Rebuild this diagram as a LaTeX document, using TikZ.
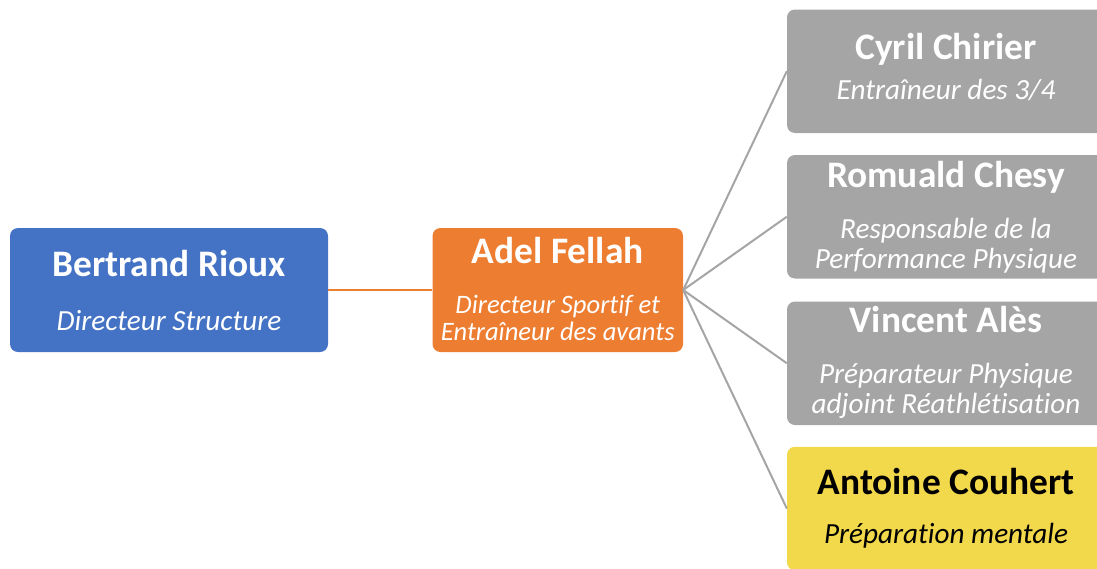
\documentclass[tikz,border=0pt]{standalone}
\usepackage{fontspec}
\setmainfont{Carlito}[Ligatures=NoCommon]
\definecolor{cblue}{HTML}{4472C4}
\definecolor{corange}{HTML}{ED7D31}
\definecolor{cgray}{HTML}{A5A5A5}
\definecolor{cyellow}{HTML}{F2D84B}
\begin{document}
\begin{tikzpicture}[x=1pt,y=-1pt,
  box/.style={draw=none, rounded corners=8pt, inner sep=0pt, minimum width=318pt, minimum height=124pt},
  nm/.style={anchor=base, inner sep=0pt, font=\fontsize{37.4}{40}\selectfont\bfseries},
  sub/.style={anchor=base, inner sep=0pt, font=\fontsize{29.2}{30}\selectfont\itshape},
  subsm/.style={anchor=base, inner sep=0pt, font=\fontsize{26.6}{28}\selectfont\itshape},
  wt/.style={text=white},
  conn/.style={draw=cgray, line width=2pt},
  oconn/.style={draw=corange, line width=2.5pt}]
\useasboundingbox (0,0) rectangle (1097,568);
% boxes
\node[box, fill=cblue] (br) at (169,290) {};
\node[box, fill=corange, minimum width=250.5pt] (af) at (557.75,290) {};
\node[box, fill=cgray, minimum height=123.5pt] (cc) at (946,71.25) {};
\node[box, fill=cgray, minimum height=123.5pt] (rc) at (946,216.75) {};
\node[box, fill=cgray, minimum height=123.5pt] (va) at (946,363.25) {};
\node[box, fill=cyellow, minimum height=123.5pt] (ac) at (946,508.5) {};
% connectors
\draw[oconn] (br.east) -- (af.west);
\draw[conn] (af.east) -- (cc.west);
\draw[conn] (af.east) -- (rc.west);
\draw[conn] (af.east) -- (va.west);
\draw[conn] (af.east) -- (ac.west);
% texts
\node[nm, wt] (brn) at (169,276) {Bertrand Rioux};
\node[sub, wt] (brs) at (169,330) {Directeur Structure};
\node[nm, wt] (afn) at (557.75,263) {Adel Fellah};
\node[subsm, wt] (afs1) at (557.75,313) {Directeur Sportif et};
\node[subsm, wt] (afs2) at (557.75,340) {Entraîneur des avants};
\node[nm, wt] (ccn) at (946,59) {Cyril Chirier};
\node[sub, wt] (ccs) at (946,99) {Entraîneur des 3/4};
\node[nm, wt] (rcn) at (946,187) {Romuald Chesy};
\node[sub, wt] (rcs1) at (946,238) {Responsable de la};
\node[sub, wt] (rcs2) at (946,268) {Performance Physique};
\node[nm, wt] (van) at (946,332) {Vincent Alès};
\node[sub, wt] (vas1) at (946,383) {Préparateur Physique};
\node[sub, wt] (vas2) at (946,413) {adjoint Réathlétisation};
\node[nm, text=black] (acn) at (946,494) {Antoine Couhert};
\node[sub, text=black] (acs) at (946,543) {Préparation mentale};
\end{tikzpicture}
\end{document}
